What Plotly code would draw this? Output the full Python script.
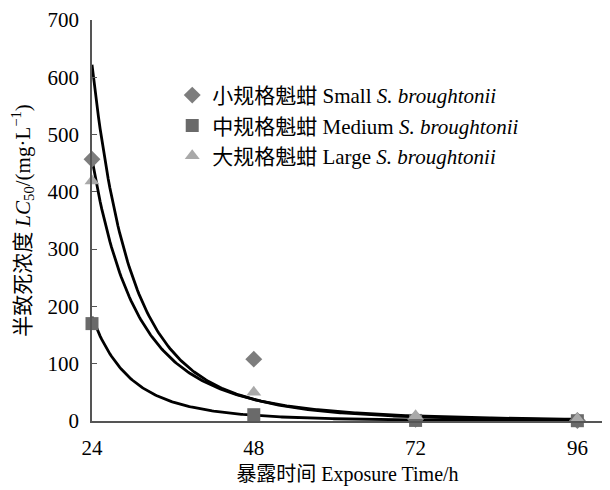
import numpy as np
import plotly.graph_objects as go

# Exposure time (h)
hours = [24, 48, 72, 96]

# LC50 values (mg/L)
small_lc50 = [457, 108, 3, 1]
medium_lc50 = [170, 11, 1, 0.5]
large_lc50 = [419, 50, 9, 4]

# Power-law fit curves y = a * (t/24)^b, coefficients
fit_a = [622, 457, 182]
fit_b = [-4.05, -3.6, -4.2]

names = [
    "小规格魁蚶 Small <i>S. broughtonii</i>",
    "中规格魁蚶 Medium <i>S. broughtonii</i>",
    "大规格魁蚶 Large <i>S. broughtonii</i>",
]
series = [small_lc50, medium_lc50, large_lc50]
symbols = ["diamond", "square", "triangle-up"]
colors = ["#7d7d7d", "#6a6a6a", "#a9a9a9"]
sizes = [13, 13, 13]

FONT = "Liberation Serif, Times New Roman, Noto Sans CJK SC, serif"

fig = go.Figure()

t = np.linspace(24, 96, 300)
for a, b in zip(fit_a, fit_b):
    fig.add_trace(go.Scatter(
        x=t, y=a * (t / 24.0) ** b, mode="lines",
        line=dict(color="black", width=2.8), showlegend=False, hoverinfo="skip",
    ))

for i, (nm, ys) in enumerate(zip(names, series)):
    fig.add_trace(go.Scatter(
        x=hours, y=ys, mode="markers", name=nm, legendgroup=f"g{i}",
        marker=dict(symbol=symbols[i], color=colors[i], size=sizes[i], line=dict(width=0)),
        cliponaxis=False,
    ))

# page body has an 8px margin, so the figure is offset by 8px
fig.update_layout(
    width=602, height=482,
    margin=dict(l=84, r=7, t=12, b=69, autoexpand=False),
    paper_bgcolor="white", plot_bgcolor="white",
    font=dict(family=FONT, size=21, color="black"),
    showlegend=True,
    legend=dict(x=0.157, y=0.863, xanchor="left", yanchor="top",
                bgcolor="rgba(0,0,0,0)", font=dict(size=21, family=FONT),
                tracegroupgap=0, itemwidth=30),
    xaxis=dict(
        range=[24, 99.8], tickvals=hours, ticktext=[str(h) for h in hours],
        showgrid=False, zeroline=False, showline=True, linecolor="#555555", linewidth=1.5,
        ticks="", ticklabelstandoff=7, ticklabeloverflow="allow", automargin=False,
        title=dict(text="暴露时间 Exposure Time/h", font=dict(size=20), standoff=8),
    ),
    yaxis=dict(
        range=[0, 700], dtick=100, tick0=0,
        showgrid=False, zeroline=False, showline=True, linecolor="#555555", linewidth=1.5,
        ticks="inside", ticklen=5, tickcolor="#555555", ticklabelstandoff=7,
        ticklabeloverflow="allow", automargin=False,
        title=dict(text="半致死浓度 <i>LC</i><sub>50</sub>/(mg·L<sup>−1</sup>)", font=dict(size=21), standoff=12),
    ),
)

fig.write_html("out.html")
